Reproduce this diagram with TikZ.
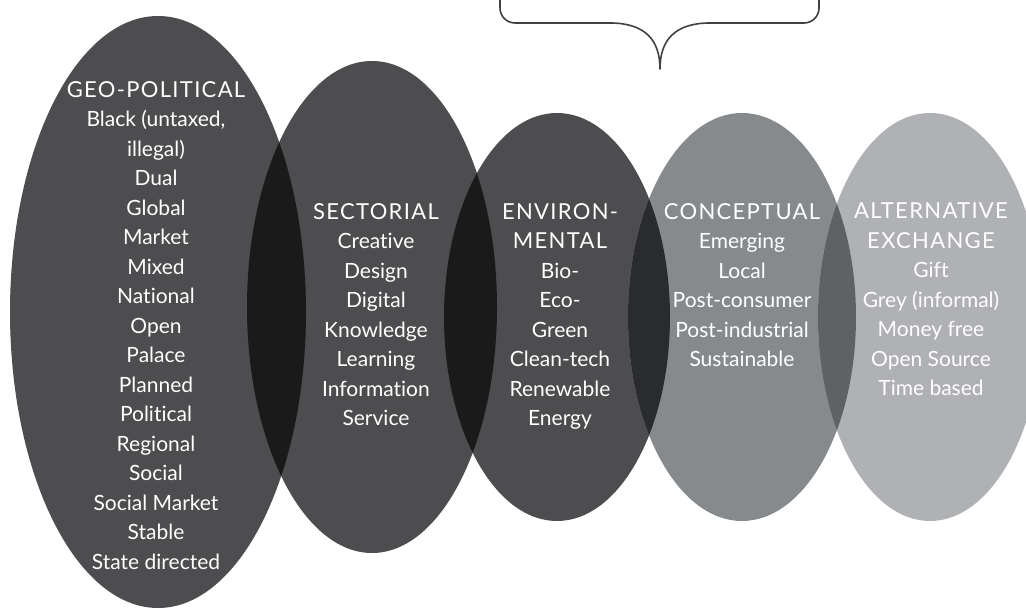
\documentclass[tikz,border=0pt]{standalone}
\usepackage{fontspec}
\setmainfont{Lato}[Ligatures=NoCommon]
\newfontfamily\capsfont{Lato}[LetterSpace=6,Ligatures=NoCommon]
\definecolor{ellDark}{HTML}{4D4D4F}
\definecolor{ellMid}{HTML}{878A8D}
\definecolor{ellLight}{HTML}{B0B1B4}
\definecolor{lensDark}{HTML}{1A1A1A}
\definecolor{lensMid}{HTML}{2A2B2D}
\definecolor{lensLight}{HTML}{5F6265}
\definecolor{braceCol}{HTML}{404041}
\tikzset{
  label text/.style={text=white, align=center, anchor=north, inner sep=0pt,
    font=\fontsize{21}{29.5}\selectfont},
  brace line/.style={draw=braceCol, line width=1.6pt, line join=round},
}
\newcommand{\hd}[1]{{\capsfont\fontsize{22}{29.5}\selectfont #1}}
\begin{document}
\begin{tikzpicture}[x=1pt,y=-1pt]
\useasboundingbox (0,0) rectangle (1026,609);
% ellipses
\def\eA{(158,312) ellipse [x radius=148pt, y radius=296pt]}
\def\eB{(372,307) ellipse [x radius=125pt, y radius=246pt]}
\def\eC{(557,317) ellipse [x radius=113pt, y radius=204pt]}
\def\eD{(742,317) ellipse [x radius=114pt, y radius=204pt]}
\def\eE{(930,317) ellipse [x radius=112pt, y radius=204pt]}
\fill[ellDark] \eA;
\fill[ellDark] \eB;
\fill[ellDark] \eC;
\fill[ellMid] \eD;
\fill[ellLight] \eE;
\begin{scope}\clip \eA; \fill[lensDark] \eB; \end{scope}
\begin{scope}\clip \eB; \fill[lensDark] \eC; \end{scope}
\begin{scope}\clip \eC; \fill[lensMid] \eD; \end{scope}
\begin{scope}\clip \eD; \fill[lensLight] \eE; \end{scope}
% brace
\draw[brace line] (500,-5) -- (500,8) .. controls (500,16.3) and (506.7,23) .. (515,23)
  -- (610,23) .. controls (645,23) and (660,40) .. (660,69)
  .. controls (660,40) and (675,23) .. (710,23) -- (804,23)
  .. controls (812.3,23) and (819,16.3) .. (819,8) -- (819,-5);
% texts
\node[label text] (geo) at (156,81) {\hd{GEO-POLITICAL}\\Black (untaxed,\\illegal)\\Dual\\Global\\Market\\Mixed\\National\\Open\\Palace\\Planned\\Political\\Regional\\Social\\Social Market\\Stable\\State directed};
\node[label text] (sec) at (376,203) {\hd{SECTORIAL}\\Creative\\Design\\Digital\\Knowledge\\Learning\\Information\\Service};
\node[label text] (env) at (560,203) {\hd{ENVIRON-}\\\hd{MENTAL}\\Bio-\\Eco-\\Green\\Clean-tech\\Renewable\\Energy};
\node[label text] (con) at (742,203) {\hd{CONCEPTUAL}\\Emerging\\Local\\Post-consumer\\Post-industrial\\Sustainable};
\node[label text] (alt) at (931,203) {\hd{ALTERNATIVE}\\\hd{EXCHANGE}\\Gift\\Grey (informal)\\Money free\\Open Source\\Time based};
\end{tikzpicture}
\end{document}
